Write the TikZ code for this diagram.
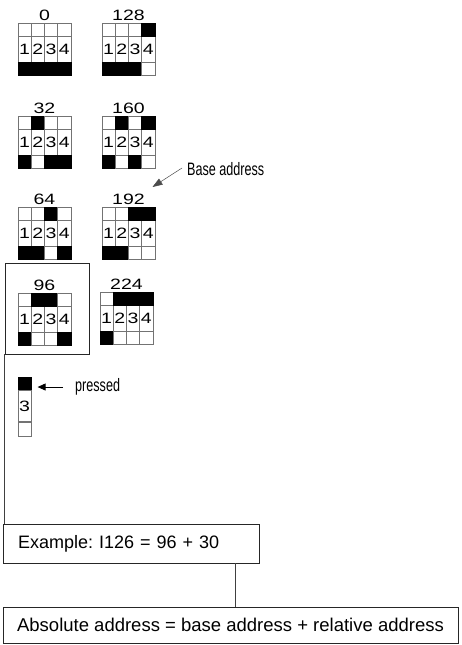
\documentclass[tikz,border=0pt]{standalone}
\usepackage{fontspec}
\setmainfont{Liberation Sans}
\newfontfamily\narrowsf[FakeStretch=0.7]{Liberation Sans}
\newfontfamily\widesf[FakeStretch=1.3]{Liberation Sans}
\usetikzlibrary{arrows.meta, positioning, calc}
\colorlet{keyup}{white}
\colorlet{keydn}{black}
\colorlet{edgeup}{black!55}
\colorlet{edgedn}{black}
\tikzset{
  keycell/.style={draw=black!55, line width=0.8pt},
  keylabel/.style={font=\widesf\fontsize{15}{15}\selectfont, anchor=base, inner sep=1pt},
  keydigit/.style={font=\widesf\fontsize{15}{15}\selectfont, inner sep=0pt},
  frame/.style={draw=black!85, line width=0.9pt},
  wire/.style={draw=black!75, line width=0.8pt},
  note/.style={font=\narrowsf\fontsize{18}{18}\selectfont, inner sep=0pt},
  textbox/.style={frame, font=\fontsize{18}{20}\selectfont},
  ptr/.style={-{Triangle[length=8pt, width=7pt]}, line width=0.9pt, color=black},
  thinptr/.style={-{Triangle[length=10pt, width=7pt]}, line width=0.5pt, color=black!70}
}
\begin{document}
\begin{tikzpicture}[x=1pt, y=-1pt]
  \useasboundingbox (0,0) rectangle (461,645);

  % key grids: x / y / value / top row / bottom row
  \foreach \gx/\gy/\lab/\toprow/\botrow in {
      18/23/0/{up,up,up,up}/{dn,dn,dn,dn},
      102/23/128/{up,up,up,dn}/{dn,dn,dn,up},
      18/116/32/{up,dn,up,up}/{dn,up,dn,dn},
      102/116/160/{up,dn,up,dn}/{dn,up,dn,up},
      18/207/64/{up,up,dn,up}/{dn,dn,up,dn},
      102/207/192/{up,up,dn,dn}/{dn,dn,up,up},
      18/293/96/{up,dn,dn,up}/{dn,up,up,dn},
      100/292/224/{up,dn,dn,dn}/{dn,up,up,up}} {
    \node[keylabel] (l\lab) at (\gx+26.5,\gy-3) {\lab};
    \foreach \i in {1,...,4} {
      \draw[keycell] (\gx+13.25*\i-13.25,\gy+13) rectangle ++(13.25,26);
      \node[keydigit] at (\gx+13.25*\i-6.625,\gy+26) {\i};
    }
    \foreach \b [count=\i] in \toprow
      \draw[keycell, fill=key\b, draw=edge\b] (\gx+13.25*\i-13.25,\gy) rectangle ++(13.25,13);
    \foreach \b [count=\i] in \botrow
      \draw[keycell, fill=key\b, draw=edge\b] (\gx+13.25*\i-13.25,\gy+39) rectangle ++(13.25,13);
  }

  \node[frame, minimum width=84pt, minimum height=91pt] (box96) at (47,308.5) {};

  % single key
  \node[keycell, fill=keydn, draw=edgedn, minimum width=13.25pt, minimum height=13pt,
    inner sep=0pt] (pk1) at (24.6,383.5) {};
  \node[keycell, keydigit, minimum width=13.25pt, minimum height=31pt, below=0pt of pk1]
    (pk2) {3};
  \node[keycell, minimum width=13.25pt, minimum height=14pt, inner sep=0pt, below=0pt of pk2]
    (pk3) {};

  \node[note, anchor=base west] (presstxt) at (75,391) {pressed};
  \node[note, anchor=base west] (basetxt) at (187,175) {Base address};

  \node[textbox, minimum width=256pt, minimum height=39pt, text width=226pt,
    inner xsep=15pt, align=left] (ex) at (131,543.5) {Example:\ I126 = 96 + 30};
  \node[textbox, font=\fontsize{18.5}{20}\selectfont, minimum width=455pt,
    minimum height=36pt] (abs) at (230.5,625)
    {Absolute address = base address + relative address};

  \draw[ptr] ($(presstxt.base west)+(-12,-4)$) -- ($(pk1.east)+(6,3.5)$);
  \draw[thinptr] ($(basetxt.base west)+(-5,-7)$) -- ($(l192.base)+(24,-17)$);
  \draw[wire] (box96.south west) -- (box96.south west |- ex.north);
  \draw[wire] ([xshift=-24pt]ex.south east) -- ([xshift=-24pt]ex.south east |- abs.north);
\end{tikzpicture}
\end{document}
